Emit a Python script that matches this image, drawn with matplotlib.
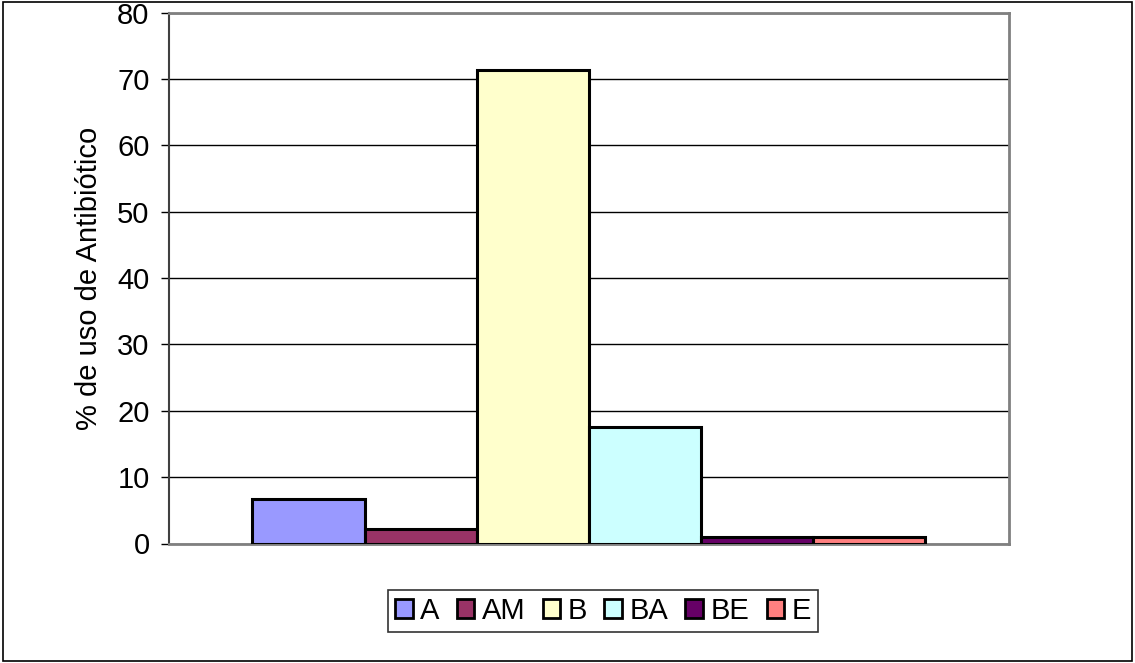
import matplotlib.pyplot as plt
from matplotlib.patches import Rectangle

plt.rcParams['font.family'] = ['Liberation Sans', 'DejaVu Sans']

antibioticos = ['A', 'AM', 'B', 'BA', 'BE', 'E']
porcentajes = [6.7, 2.2, 71.4, 17.6, 0.95, 0.95]
colores = ['#9999FF', '#993366', '#FFFFCC', '#CCFFFF', '#660066', '#FF8080']

fig = plt.figure(figsize=(11.35, 6.63), dpi=100)
ax = fig.add_axes([169 / 1135, 119.5 / 663, 840 / 1135, 531 / 663])

for i, (nombre, valor, color) in enumerate(zip(antibioticos, porcentajes, colores)):
    ax.bar(i, valor, width=1, align='edge', color=color, edgecolor='black',
           linewidth=2.2, label=nombre, zorder=3)

ax.set_xlim(-0.745, 6.75)
ax.set_ylim(0, 80)
ax.set_yticks(range(0, 81, 10))
ax.set_xticks([])
ax.yaxis.grid(True, color='black', linewidth=1)
ax.set_axisbelow(True)
ax.tick_params(axis='y', labelsize=21, length=6, width=1, direction='out', pad=8)
ax.set_ylabel('% de uso de Antibiótico', fontsize=21, labelpad=10)

ax.spines['left'].set_color('#404040')
ax.spines['left'].set_linewidth(1.5)
for lado in ['top', 'right', 'bottom']:
    ax.spines[lado].set_color('#808080')
    ax.spines[lado].set_linewidth(2)

leg = fig.legend(loc='center', bbox_to_anchor=(603 / 1135, 1 - 611 / 663), ncol=6,
                 fontsize=21, frameon=True, fancybox=False, handlelength=0.6,
                 handleheight=0.6, handletextpad=0.25, columnspacing=0.6,
                 borderpad=0.25, edgecolor='black')
leg.get_frame().set_linewidth(1.2)
for h in leg.legend_handles:
    h.set_linewidth(2)

fig.patches.append(Rectangle((3 / 1135, 2 / 663), 1 - 6 / 1135, 1 - 4 / 663,
                             transform=fig.transFigure, fill=False,
                             edgecolor='black', linewidth=1.2))

fig.savefig('out.png', dpi=100)
